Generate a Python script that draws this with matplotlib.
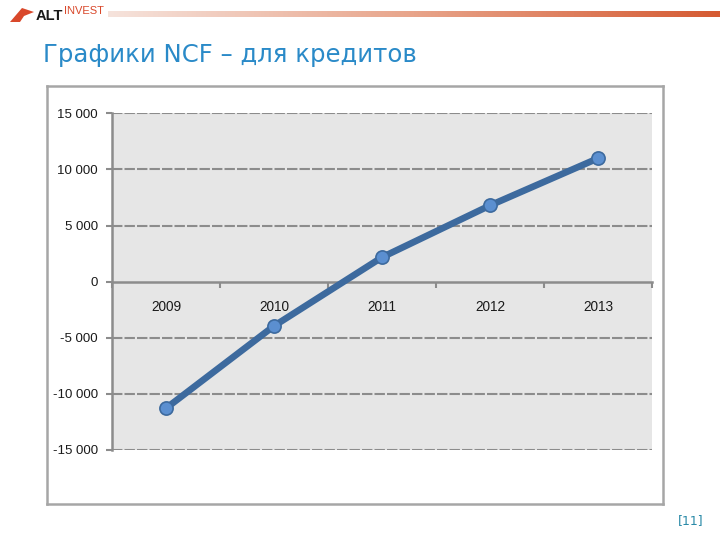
import matplotlib
matplotlib.use("Agg")
import matplotlib.pyplot as plt
import numpy as np
from matplotlib.patches import Polygon
from matplotlib.colors import LinearSegmentedColormap

years = ["2009", "2010", "2011", "2012", "2013"]
ncf = [-11280, -3950, 2170, 6790, 10990]
yticks = [-15000, -10000, -5000, 0, 5000, 10000, 15000]
ytick_labels = ["-15 000", "-10 000", "-5 000", "0", "5 000", "10 000", "15 000"]

W, H = 720, 540
fig = plt.figure(figsize=(7.2, 5.4), dpi=100)
fig.patch.set_facecolor("white")

def fx(px):
    return px / W

def fy(py):
    return 1 - py / H

# Header gradient line
gax = fig.add_axes([fx(108), fy(17), fx(720 - 108), (17 - 11) / H])
grad = np.linspace(0, 1, 256).reshape(1, -1)
cmap = LinearSegmentedColormap.from_list("g", ["#f6e3dc", "#e8a48a", "#d55a32"])
gax.imshow(grad, aspect="auto", cmap=cmap, extent=[0, 1, 0, 1])
gax.axis("off")

# Logo
fig.patches.append(Polygon([[fx(10), fy(22)], [fx(22), fy(8)], [fx(34), fy(12)], [fx(24), fy(16)], [fx(20), fy(22)]],
                           closed=True, transform=fig.transFigure, facecolor="#d9482b", edgecolor="none"))
fig.text(fx(36), fy(16), "ALT", fontsize=10.5, fontweight="bold", color="#1a1a1a",
         family="Liberation Sans", va="center", ha="left")
fig.text(fx(64), fy(11), "INVEST", fontsize=8, color="#d9482b",
         family="Liberation Sans", va="center", ha="left")

# Title
fig.text(fx(43), fy(55), "Графики NCF – для кредитов", fontsize=17.6, color="#2a8ac8",
         family="DejaVu Sans", va="center", ha="left")

# Page number
fig.text(fx(691), fy(521), "[11]", fontsize=9, color="#2a8aa8", family="DejaVu Sans",
         va="center", ha="center")

# Chart frame (background axes)
fax = fig.add_axes([fx(47), fy(504), fx(663 - 47), (504 - 86) / H], zorder=0)
fax.set_xticks([])
fax.set_yticks([])
fax.set_facecolor("white")
for s in fax.spines.values():
    s.set_color("#a6a6a6")
    s.set_linewidth(1.8)

ax = fig.add_axes([fx(112), fy(450), fx(652 - 112), (450 - 113.3) / H], zorder=1)
ax.set_facecolor("#e6e6e6")
x = np.arange(len(years))
ax.set_xlim(-0.5, len(years) - 0.5)
ax.set_ylim(-15000, 15000)

ax.set_yticks(yticks)
ax.set_yticklabels(ytick_labels, family="Liberation Sans", fontsize=9.5, color="#1a1a1a")
for yv in yticks:
    if yv != 0:
        ax.axhline(yv, color="#8c8c8c", lw=1.5, ls=(0, (5, 1)), zorder=1)

for s in ["top", "right"]:
    ax.spines[s].set_visible(False)
ax.spines["left"].set_color("#8c8c8c")
ax.spines["left"].set_linewidth(1.8)
ax.spines["bottom"].set_position(("data", 0))
ax.spines["bottom"].set_color("#8c8c8c")
ax.spines["bottom"].set_linewidth(1.8)
ax.spines["bottom"].set_zorder(1.5)

ax.set_xticks(x)
ax.set_xticklabels(years, family="Liberation Sans", fontsize=9.8, color="#1a1a1a")
ax.set_xticks(np.arange(-0.5, len(years), 1.0), minor=True)
ax.tick_params(axis="x", which="major", length=0, pad=13)
ax.tick_params(axis="x", which="minor", length=4, width=1.5, color="#8c8c8c", direction="out")
ax.tick_params(axis="y", length=4, width=1.5, color="#8c8c8c", pad=6)

ax.plot(x, ncf, color="#3d6a9e", lw=4.8, zorder=3, solid_capstyle="round",
        marker="o", markersize=9.5, markerfacecolor="#5b8fd0", markeredgecolor="#3d6a9e",
        markeredgewidth=1.2)

fig.savefig("out.png", dpi=100)
